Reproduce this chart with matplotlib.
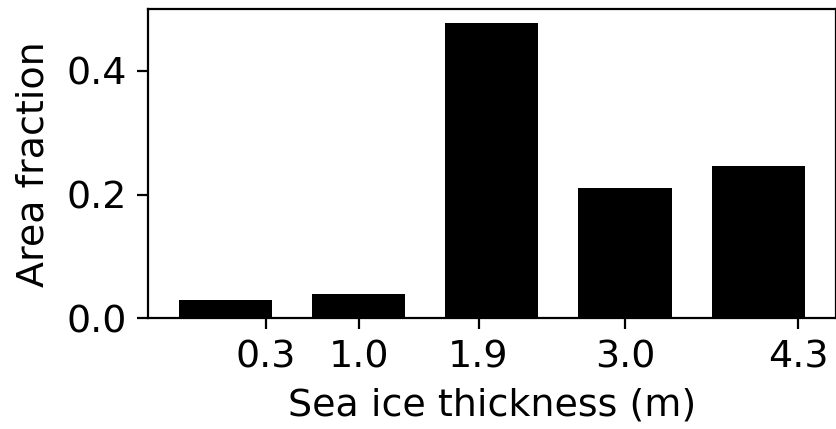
import matplotlib
matplotlib.use("Agg")
import matplotlib.pyplot as plt

bar_pos = [0, 1, 2, 3, 4]
area_fraction = [0.029, 0.039, 0.477, 0.210, 0.246]
tick_values = [0.3, 1.0, 1.9, 3.0, 4.3]
tick_labels = ["0.3", "1.0", "1.9", "3.0", "4.3"]

plt.rcParams["font.size"] = 13.7
plt.rcParams["xtick.major.size"] = 4
plt.rcParams["ytick.major.size"] = 4
fig = plt.figure(figsize=(4.18, 2.145), dpi=200)
ax = fig.add_axes([0.1767, 0.258, 0.8233, 0.721])
ax.bar(bar_pos, area_fraction, width=0.7, color="black")
ax.set_xticks(tick_values)
ax.set_xticklabels(tick_labels)
ax.set_yticks([0.0, 0.2, 0.4])
ax.set_ylim(0, 0.5)
ax.set_xlim(-0.585, 4.585)
ax.set_xlabel("Sea ice thickness (m)", labelpad=4.5)
ax.set_ylabel("Area fraction", labelpad=5.5)
fig.savefig("out.png", dpi=200)
